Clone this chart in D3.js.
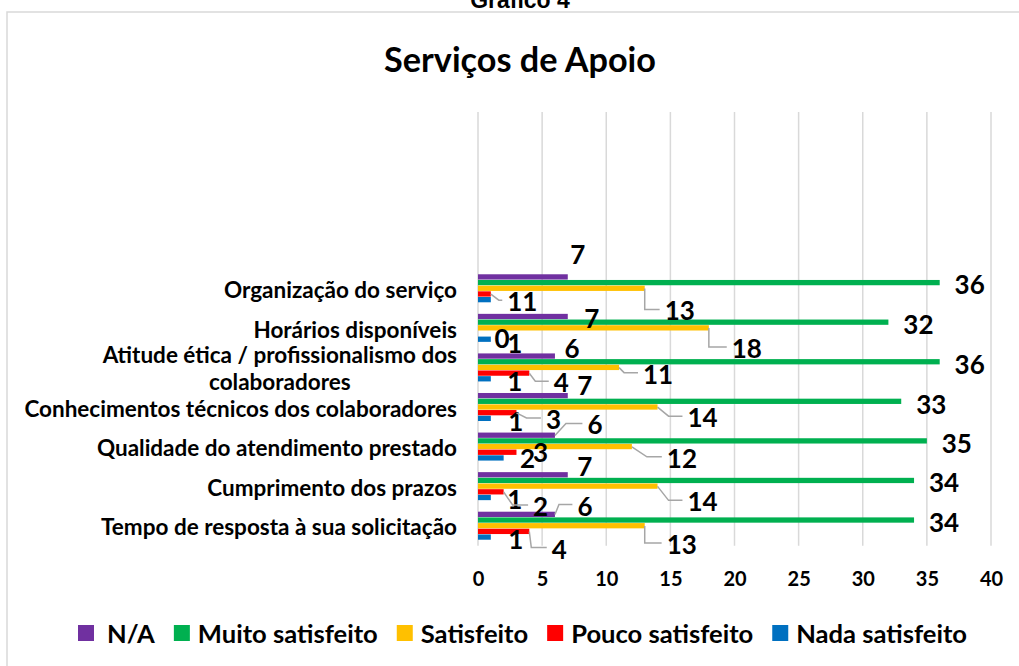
<!DOCTYPE html>
<html>
<head>
<meta charset="utf-8">
<script src="https://cdn.jsdelivr.net/npm/d3@7"></script>
<style>
  html, body { margin: 0; padding: 0; background: #fff; }
  svg { display: block; }
  text { font-family: Lato, "Open Sans", sans-serif; font-weight: 700; fill: #000; }
</style>
</head>
<body>
<svg id="chart" width="1019" height="666"></svg>
<script>
// Categories (top to bottom) and the five answer series
const categories = [
  "Organização do serviço",
  "Horários disponíveis",
  "Atitude ética / profissionalismo dos colaboradores",
  "Conhecimentos técnicos dos colaboradores",
  "Qualidade do atendimento prestado",
  "Cumprimento dos prazos",
  "Tempo de resposta à sua solicitação"
];
const seriesNames = ["N/A", "Muito satisfeito", "Satisfeito", "Pouco satisfeito", "Nada satisfeito"];
const naValues         = [7, 7, 6, 7, 6, 7, 6];
const muitoValues      = [36, 32, 36, 33, 35, 34, 34];
const satisfeitoValues = [13, 18, 11, 14, 12, 14, 13];
const poucoValues      = [1, 0, 4, 3, 3, 2, 4];
const nadaValues       = [1, 1, 1, 1, 2, 1, 1];
const xTicks = [0, 5, 10, 15, 20, 25, 30, 35, 40];

const seriesValues = [naValues, muitoValues, satisfeitoValues, poucoValues, nadaValues];
const seriesColors = ["#7030A0", "#00B050", "#FFC000", "#FF0000", "#0070C0"];

// Hand-placed data label offsets from the bar end: [dx, dy, leader elbow or null]
const labelOffsets = [
  [[10, -23, null], [24, 1, null], [17, -8, null], [17, -11, null], [40, -11, 11], [17, -9, null], [30, -9, 4]],
  [[30, 1, null], [30, 2, null], [30, 2, null], [30, 2, null], [30, 2, null], [30, 1, null], [30, 2, null]],
  [[35, 22, 0], [38, 20, 0], [39, 6, 5], [45, 10, 11], [50, 11, 15], [45, 15, 11], [37, 18, 0]],
  [[24, 7, 8], [24, 4, null], [32, 9, 6], [37, 6, 10], [24, 0, null], [37, 14, 9], [30, 17, 2]],
  [[39, 1, null], [24, 4, null], [24, 2, null], [25, 2, null], [24, 0, null], [24, 1, null], [25, 2, null]]
];

const svg = d3.select("#chart");

// chart frame
svg.append("rect")
  .attr("x", 7).attr("y", 12).attr("width", 1030).attr("height", 700)
  .attr("fill", "#fff").attr("stroke", "#d9d9d9").attr("stroke-width", 1.5);

// caption above the frame
svg.append("text")
  .attr("x", 520).attr("y", 8)
  .attr("text-anchor", "middle")
  .style("font-family", "'Liberation Sans', Arial, sans-serif")
  .style("font-size", "23px")
  .text("Gráfico 4");

function fitFont(sel, target) {
  const size = parseFloat(sel.style("font-size"));
  const w = sel.node().getComputedTextLength();
  sel.style("font-size", (size * target / w) + "px");
}

const title = svg.append("text")
  .attr("x", 520).attr("y", 58)
  .attr("text-anchor", "middle")
  .attr("dominant-baseline", "central")
  .style("font-size", "32px")
  .text("Serviços de Apoio");
fitFont(title, 272);

// scales
const x = d3.scaleLinear().domain([0, 40]).range([478, 991]);
const plotTop = 112, plotBottom = 545.7;
const y = d3.scaleBand().domain(categories).range([268.7, plotBottom])
  .paddingInner(0.282).paddingOuter(0.141);
const yInner = d3.scaleBand().domain(seriesNames).range([0, y.bandwidth()]);

// gridlines
svg.append("g").selectAll("line").data(xTicks).join("line")
  .attr("x1", d => x(d)).attr("x2", d => x(d))
  .attr("y1", plotTop).attr("y2", plotBottom)
  .attr("stroke", "#d9d9d9").attr("stroke-width", 1.5);

// x axis tick labels
const xAxis = svg.append("g")
  .attr("transform", `translate(0,${plotBottom + 24})`)
  .call(d3.axisBottom(x).tickValues(xTicks).tickSize(0).tickPadding(0));
xAxis.select(".domain").remove();
xAxis.selectAll("text")
  .style("font-family", "Lato, sans-serif").style("font-weight", 700)
  .style("font-size", "20px").attr("fill", "#000").attr("dy", "0.71em")
  .attr("y", 2);

// category labels
const catSize = 18;
const catG = svg.append("g");
const lineSplit = {
  "Atitude ética / profissionalismo dos colaboradores": ["Atitude ética / profissionalismo dos", "colaboradores"]
};
categories.forEach(c => {
  const cy = y(c) + y.bandwidth() / 2;
  const lines = lineSplit[c] || [c];
  if (lines.length === 1) {
    catG.append("text").attr("class", "cat")
      .attr("x", 457).attr("y", cy + 1)
      .attr("text-anchor", "end").attr("dominant-baseline", "central")
      .style("font-size", catSize + "px").text(c);
  } else {
    const t = catG.append("text").attr("class", "cat wrap")
      .attr("text-anchor", "middle").attr("dominant-baseline", "central")
      .style("font-size", catSize + "px");
    lines.forEach((ln, k) => {
      t.append("tspan").attr("y", cy + (k === 0 ? -13.5 : 13.5)).text(ln);
    });
  }
});
// size the category font from the longest single line
const ref = catG.selectAll("text.cat").filter(function () { return this.textContent === categories[3]; });
fitFont(ref, 433);
const catFont = ref.style("font-size");
catG.selectAll("text").style("font-size", catFont);
catG.selectAll("text.wrap").each(function () {
  const t = d3.select(this);
  const w = t.select("tspan").node().getComputedTextLength();
  t.selectAll("tspan").attr("x", 457 - w / 2);
});

// bars
const groups = svg.append("g").selectAll("g").data(categories).join("g")
  .attr("transform", c => `translate(0,${y(c)})`);
seriesNames.forEach((s, si) => {
  groups.append("rect")
    .attr("x", x(0))
    .attr("y", yInner(s))
    .attr("width", (c, ci) => x(seriesValues[si][ci]) - x(0))
    .attr("height", yInner.bandwidth() - 0.4)
    .attr("fill", seriesColors[si]);
});

// data labels with leader lines
const labelG = svg.append("g");
const leaderG = svg.append("g");
seriesNames.forEach((s, si) => {
  categories.forEach((c, ci) => {
    const v = seriesValues[si][ci];
    const xe = x(v);
    const by = y(c) + yInner(s) + yInner.bandwidth() / 2;
    const [dx, dy, kx] = labelOffsets[si][ci];
    const cx = xe + dx, cy = by + dy;
    const t = labelG.append("text")
      .attr("x", cx).attr("y", cy)
      .attr("text-anchor", "middle").attr("dominant-baseline", "central")
      .style("font-size", "26px").text(v);
    if (kx !== null) {
      const w = t.node().getComputedTextLength();
      const ly = cy - 1;
      leaderG.append("path")
        .attr("d", `M${xe},${by}L${xe + kx},${ly}L${cx - w / 2 - 5},${ly}`)
        .attr("fill", "none").attr("stroke", "#a6a6a6").attr("stroke-width", 1.5);
    }
  });
});

// legend
const legend = svg.append("g");
const probe = legend.append("text").style("font-size", "22px").text(seriesNames[1]);
fitFont(probe, 180);
const legFont = probe.style("font-size");
probe.remove();
let lx = 78;
seriesNames.forEach((s, si) => {
  legend.append("rect").attr("x", lx).attr("y", 625).attr("width", 16).attr("height", 16)
    .attr("fill", seriesColors[si]);
  const gap = si === 0 ? 13 : 8;
  const t = legend.append("text")
    .attr("x", lx + 16 + gap).attr("y", 633)
    .attr("dominant-baseline", "central").style("font-size", legFont).text(s);
  lx = lx + 16 + gap + t.node().getComputedTextLength() + 19;
});
</script>
</body>
</html>
